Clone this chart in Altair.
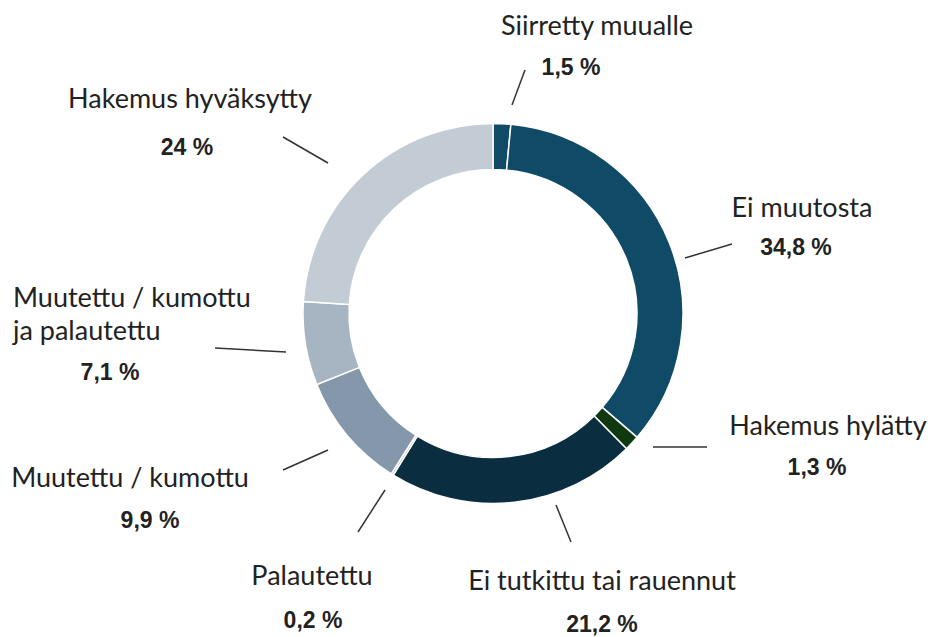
import altair as alt
import pandas as pd

# ---- data ----
categories = [
    "Siirretty muualle",
    "Ei muutosta",
    "Hakemus hylätty",
    "Ei tutkittu tai rauennut",
    "Palautettu",
    "Muutettu / kumottu",
    "Muutettu / kumottu\nja palautettu",
    "Hakemus hyväksytty",
]
values = [1.5, 34.8, 1.3, 21.2, 0.2, 9.9, 7.1, 24.0]
pct_labels = ["1,5 %", "34,8 %", "1,3 %", "21,2 %", "0,2 %", "9,9 %", "7,1 %", "24 %"]
colors = ["#0f4b67", "#0f4b67", "#0f3a10", "#0b2d40", "#b8c3cf", "#8597aa", "#a7b4c2", "#c3cbd5"]

# ---- layout (annotation placement, pixels) ----
CX, CY = 493, 313.5
R_OUT, R_IN = 190, 144
name_x = [597, 802, 828, 602, 312, 130, 13, 190]
name_y = [35, 217, 435, 590, 585, 487, 307, 108]
name_align_left = [False, False, False, False, False, False, True, False]
pct_x = [571, 796, 817, 602, 313, 150, 110, 187]
pct_y = [75, 255, 475, 632, 628, 528, 380, 155]
lead_x1 = [512, 685, 653, 556, 385, 328, 286, 328]
lead_y1 = [105, 258, 447, 505, 490, 450, 352, 163]
lead_x2 = [525, 732, 707, 571, 358, 283, 215, 283]
lead_y2 = [70, 244, 447, 542, 532, 470, 348, 137]

df = pd.DataFrame({
    "cat": categories,
    "value": values,
    "pct": pct_labels,
    "order": list(range(len(categories))),
    "nx": name_x, "ny": name_y,
    "px": pct_x, "py": pct_y,
    "x1": lead_x1, "y1": lead_y1, "x2": lead_x2, "y2": lead_y2,
    "left": name_align_left,
})

arc = alt.Chart(df).mark_arc(
    innerRadius=R_IN, outerRadius=R_OUT, stroke="white", strokeWidth=1.5
).encode(
    theta=alt.Theta("value:Q", stack=True),
    order=alt.Order("order:Q"),
    color=alt.Color("cat:N", scale=alt.Scale(domain=categories, range=colors), legend=None),
    x=alt.value(CX),
    y=alt.value(CY),
)

leaders = alt.Chart(df).mark_rule(color="#333333", strokeWidth=1.5).encode(
    x=alt.X("x1:Q", scale=None),
    y=alt.Y("y1:Q", scale=None),
    x2="x2:Q",
    y2="y2:Q",
)

name_style = dict(font="Lato", fontSize=27, color="#222222", baseline="alphabetic")

names_c = alt.Chart(df).transform_filter("!datum.left").mark_text(
    align="center", **name_style
).encode(
    x=alt.X("nx:Q", scale=None),
    y=alt.Y("ny:Q", scale=None),
    text="cat:N",
)

names_l = alt.Chart(df).transform_filter("datum.left").mark_text(
    align="left", lineBreak="\n", lineHeight=33, **name_style
).encode(
    x=alt.X("nx:Q", scale=None),
    y=alt.Y("ny:Q", scale=None),
    text="cat:N",
)

pcts = alt.Chart(df).mark_text(
    font="Liberation Sans", fontSize=23, fontWeight="bold", color="#222222",
    align="center", baseline="alphabetic"
).encode(
    x=alt.X("px:Q", scale=None),
    y=alt.Y("py:Q", scale=None),
    text="pct:N",
)

chart = alt.layer(arc, leaders, names_c, names_l, pcts).properties(
    width=931, height=637, padding=0, autosize=alt.AutoSizeParams(type="none"),
    background="white",
).configure_view(stroke=None)

chart.save("out.html", embed_options={"renderer": "svg", "actions": False})
